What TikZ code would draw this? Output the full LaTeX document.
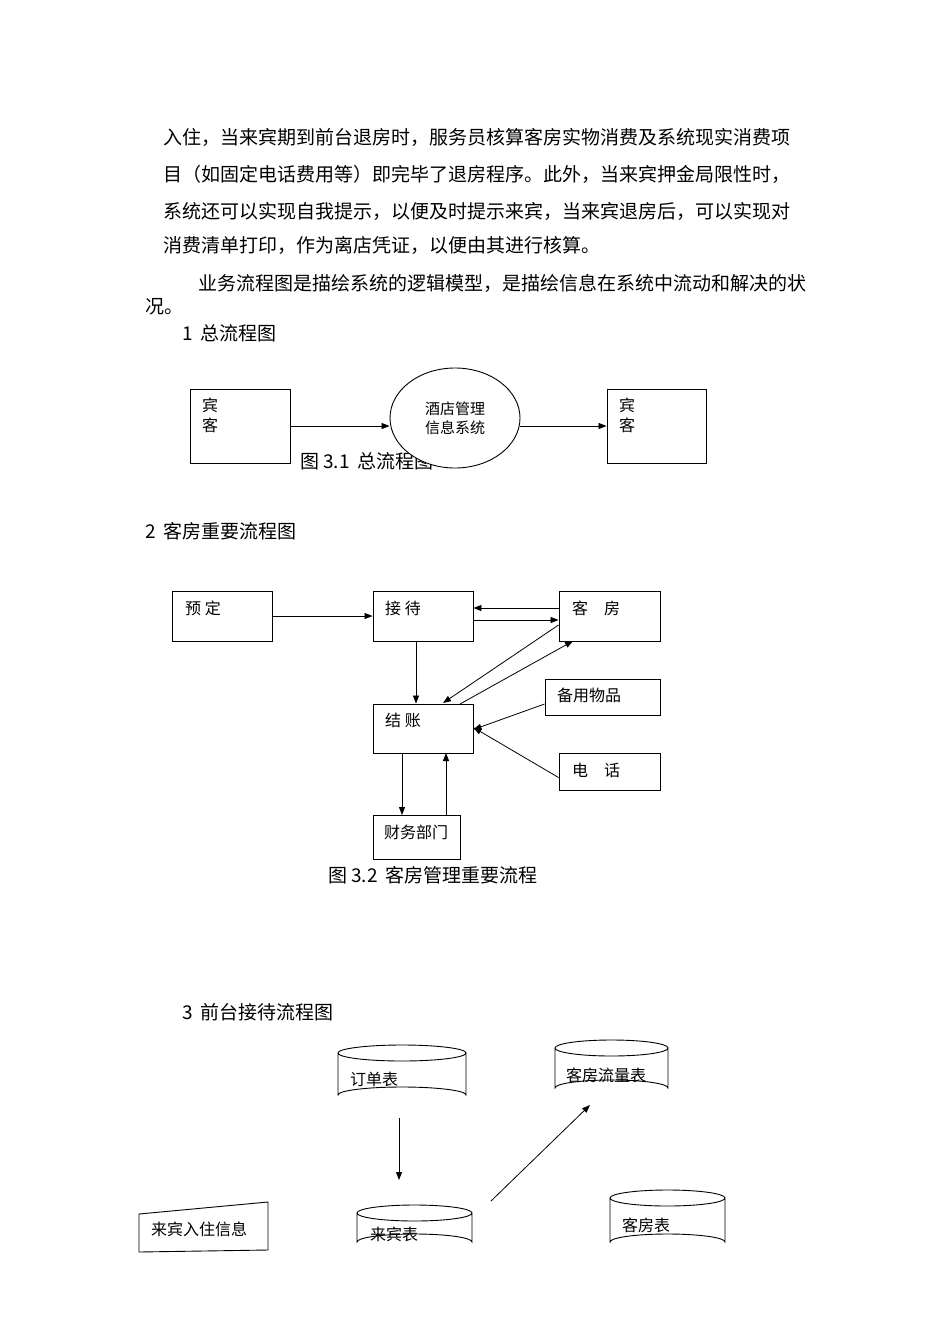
\documentclass[tikz,border=0pt]{standalone}
\usepackage{fontspec}
\setmainfont{Liberation Serif}
\newfontfamily\cjk{Noto Sans CJK SC}
\usetikzlibrary{arrows.meta,shapes.geometric}
\begin{document}
\begin{tikzpicture}[x=1pt,y=-1pt,
 body/.style={anchor=west,inner sep=0pt,font=\cjk\fontsize{19}{19}\selectfont},
 lbl/.style={anchor=west,inner sep=0pt,font=\cjk\fontsize{16}{16}\selectfont},
 box/.style={draw,line width=0.9pt},
 arr/.style={-{Triangle[length=8pt,width=6pt]},line width=0.8pt}]
\useasboundingbox (0,0) rectangle (950,1344);
\node[body] (t1) at (163,137) {入住，当来宾期到前台退房时，服务员核算客房实物消费及系统现实消费项};
\node[body] (t2) at (163,174) {目（如固定电话费用等）即完毕了退房程序。此外，当来宾押金局限性时，};
\node[body] (t3) at (163,211) {系统还可以实现自我提示，以便及时提示来宾，当来宾退房后，可以实现对};
\node[body] (t4) at (163,245) {消费清单打印，作为离店凭证，以便由其进行核算。};
\node[body] (t5) at (198,283) {业务流程图是描绘系统的逻辑模型，是描绘信息在系统中流动和解决的状};
\node[body] (t6) at (145,307) {况。};
\node[body] (t7) at (182,333) {1 \,总流程图};
% diagram 1
\node[box,minimum width=100pt,minimum height=74pt] (g1) at (240,426) {};
\node[lbl] at (202,405) {宾};\node[lbl] at (202,425) {客};
\node[body] (c1) at (300,461) {图 3.1 \,总流程图};
\node[draw,fill=white,ellipse,line width=0.9pt,minimum width=130pt,minimum height=100pt,inner sep=0pt,font=\cjk\fontsize{15}{19}\selectfont,align=center] (sys) at (455,418) {酒店管理\\信息系统};
\node[box,minimum width=99pt,minimum height=74pt] (g2) at (656.5,426) {};
\node[lbl] at (619,405) {宾};\node[lbl] at (619,425) {客};
\draw[arr] (g1.east) -- (g1.east -| sys.west);
\draw[arr] (g2.west -| sys.east) -- (g2.west);
\node[body] (t8) at (145,531) {2 \,客房重要流程图};
% diagram 2
\node[box,minimum width=100pt,minimum height=50pt] (yd) at (222,616) {};
\node[lbl] at (185,608) {预 定};
\node[box,minimum width=100pt,minimum height=50pt] (jd) at (423,616) {};
\node[lbl] at (385,608) {接 待};
\node[box,minimum width=101pt,minimum height=50pt] (kf) at (609.5,616) {};
\node[lbl] at (572,608) {客\quad 房};
\node[box,minimum width=115pt,minimum height=36pt] (by) at (602.5,697) {};
\node[lbl] at (557,695) {备用物品};
\node[box,minimum width=100pt,minimum height=49pt] (jz) at (423,728.5) {};
\node[lbl] at (385,720) {结 账};
\node[box,minimum width=101pt,minimum height=37pt] (dh) at (609.5,771.5) {};
\node[lbl] at (572,770) {电\quad 话};
\node[box,minimum width=87pt,minimum height=44pt] (cw) at (416.5,837) {};
\node[lbl] at (384,832) {财务部门};
\draw[arr] (yd.east) -- (jd.west);
\draw[arr] ([yshift=-4pt]jd.east) -- ([yshift=-4pt]kf.west);
\draw[arr] ([yshift=8pt]kf.west) -- ([yshift=8pt]jd.east);
\draw[arr] (jd.south) ++(-7,0) coordinate (a1) (a1) -- (a1 |- jz.north);
\coordinate (k2) at (573,641);
\coordinate (j1) at (443,703); \coordinate (j2) at (460,704);
\draw[arr] ([yshift=-9pt]kf.west) -- (j1);
\draw[arr] (j2) -- (k2);
\draw[arr] ([yshift=-7pt]by.west) -- ([yshift=-1pt]jz.east);
\draw[arr] ([yshift=-6pt]dh.west) -- ([yshift=1pt]jz.east);
\draw[arr] (402,753) coordinate (b1) -- (402,815) coordinate (b2);
\draw[arr] (446,815) coordinate (b3) -- (446,753) coordinate (b4);
\node[body] (c2) at (328,875) {图 3.2 \,客房管理重要流程};
\node[body] (t9) at (182,1012) {3 \,前台接待流程图};
% cylinders
\newcommand{\mycyl}[4]{%
 \draw[line width=0.9pt] (#1,#2) -- (#1,#4) arc[start angle=180,end angle=360,x radius={(#3-#1)/2},y radius=8] -- (#3,#2) arc[start angle=0,end angle=360,x radius={(#3-#1)/2},y radius=8];}
\mycyl{338}{1053}{466}{1095}
\node[lbl] (dd) at (350,1079) {订单表};
\mycyl{555}{1048}{668}{1088}
\node[lbl] (ll) at (566,1075) {客房流量表};
\mycyl{357}{1213}{472}{1242}
\node[lbl] (lb) at (370,1234) {来宾表};
\mycyl{610}{1198}{725}{1242}
\node[lbl] (kb) at (622,1225) {客房表};
\draw[line width=0.9pt] (139,1214) -- (268,1202) -- (268,1250) -- (139,1252) -- cycle;
\node[lbl] (xx) at (151,1229) {来宾入住信息};
\coordinate (d1) at (399,1118); \coordinate (d2) at (399,1180);
\coordinate (e1) at (491,1201); \coordinate (e2) at (590,1105);
\draw[arr] (d1) -- (d2);
\draw[arr] (e1) -- (e2);
\end{tikzpicture}
\end{document}
